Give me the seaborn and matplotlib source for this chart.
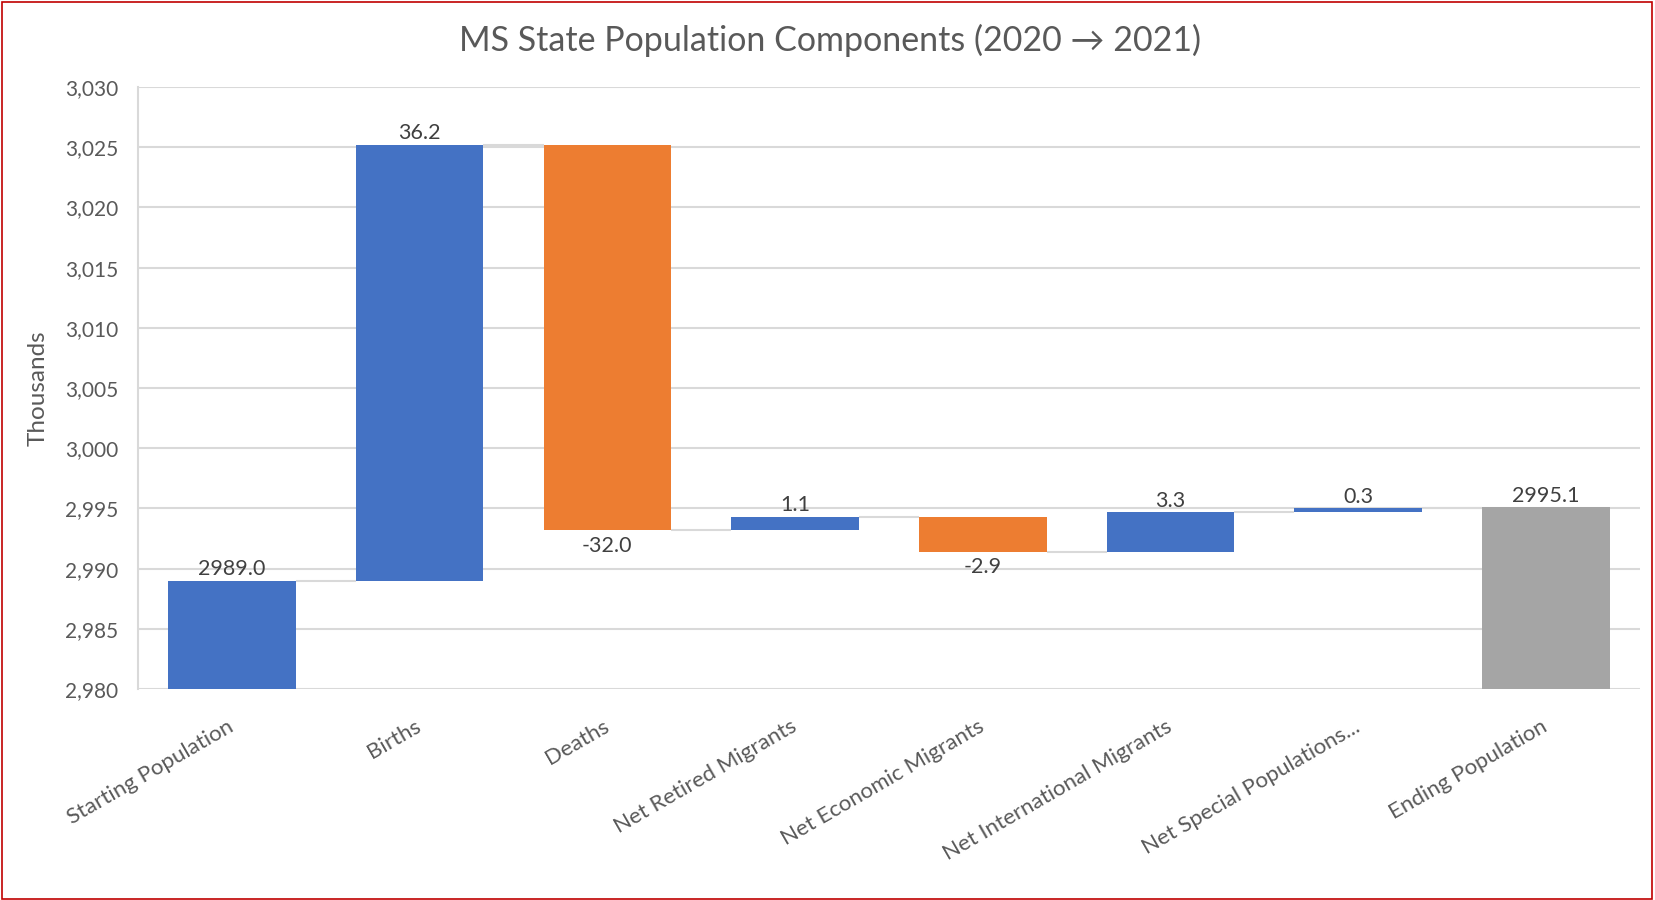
import numpy as np
import pandas as pd
import matplotlib
matplotlib.use("Agg")
import matplotlib.pyplot as plt
from matplotlib.patches import Rectangle
import seaborn as sns

# Population components, thousands of people
categories = [
    "Starting Population", "Births", "Deaths", "Net Retired Migrants",
    "Net Economic Migrants", "Net International Migrants",
    "Net Special Populations...", "Ending Population",
]
start_value = 2989.0
changes = [36.2, -32.0, 1.1, -2.9, 3.3, 0.3]
end_value = 2995.1
y_ticks = [2980, 2985, 2990, 2995, 3000, 3005, 3010, 3015, 3020, 3025, 3030]

BLUE, ORANGE, GREY = "#4472C4", "#ED7D31", "#A5A5A5"
TEXT = "#595959"
GRID = "#D9D9D9"

sns.set_theme(style="white")
plt.rcParams["font.family"] = ["Lato", "DejaVu Sans"]

# Waterfall geometry built from the values
running = np.cumsum([start_value] + changes)          # level after each step
bottoms = [0.0] + [min(running[i], running[i + 1]) for i in range(len(changes))] + [0.0]
heights = [start_value] + [abs(c) for c in changes] + [end_value]
colors = [BLUE] + [BLUE if c >= 0 else ORANGE for c in changes] + [GREY]
labels = [f"{start_value:.1f}"] + [f"{c:.1f}" for c in changes] + [f"{end_value:.1f}"]
levels = list(running) + [end_value]

df = pd.DataFrame({"category": categories, "height": heights})

fig = plt.figure(figsize=(16.55, 9), dpi=100)
ax = fig.add_axes([0.0834, 0.2344, 0.9075, 0.6689])

sns.barplot(data=df, x="category", y="height", hue="category",
            palette=colors, width=0.68, legend=False, ax=ax,
            saturation=1, linewidth=0, zorder=3)

for patch, b, h in zip(ax.patches, bottoms, heights):
    patch.set_y(b)
    patch.set_height(h)

# Connectors between consecutive bars
bar_w = 0.68
for i in range(len(categories) - 1):
    ax.plot([i + bar_w / 2, i + 1 - bar_w / 2], [levels[i], levels[i]],
            color=GRID, lw=1.5, zorder=2, solid_capstyle="butt")

# Value labels
for i, (b, h, lab) in enumerate(zip(bottoms, heights, labels)):
    negative = 0 < i < len(categories) - 1 and changes[i - 1] < 0
    if negative:
        ax.annotate(lab, (i, b), xytext=(0, -4), textcoords="offset points",
                    ha="center", va="top", fontsize=15.5, color="#404040")
    else:
        ax.annotate(lab, (i, b + h), xytext=(0, 1), textcoords="offset points",
                    ha="center", va="bottom", fontsize=15.5, color="#404040")

ax.set_ylim(y_ticks[0], y_ticks[-1])
ax.set_xlim(-0.5, len(categories) - 0.5)
ax.set_yticks(y_ticks)
ax.set_yticklabels([f"{t:,}" for t in y_ticks], fontsize=15, color=TEXT)
ax.yaxis.grid(True, color=GRID, lw=1.5, zorder=0)
ax.set_axisbelow(True)
for s in ["top", "right", "bottom"]:
    ax.spines[s].set_visible(False)
ax.spines["left"].set_color(GRID)
ax.spines["left"].set_linewidth(1.5)
ax.tick_params(axis="both", length=0)
ax.tick_params(axis="y", pad=14)

ax.set_xticks(range(len(categories)))
ax.set_xticklabels(categories, rotation=30, ha="right", va="center",
                   rotation_mode="anchor", fontsize=16, color=TEXT)
ax.tick_params(axis="x", pad=26)
ax.set_xlabel("")
ax.set_ylabel("Thousands", fontsize=17.5, color=TEXT, labelpad=12)

fig.text(0.5015, 0.955, "MS State Population Components (2020 \u2192 2021)",
         ha="center", va="center", fontsize=24.5, color=TEXT,
         family=["Lato", "DejaVu Sans"])

# Thin red frame around the whole figure
fig.patches.append(Rectangle((0.001, 0.001), 0.997, 0.997, transform=fig.transFigure,
                             fill=False, edgecolor="#C00000", lw=1.2))

fig.savefig("out.png", dpi=100, facecolor="white")
